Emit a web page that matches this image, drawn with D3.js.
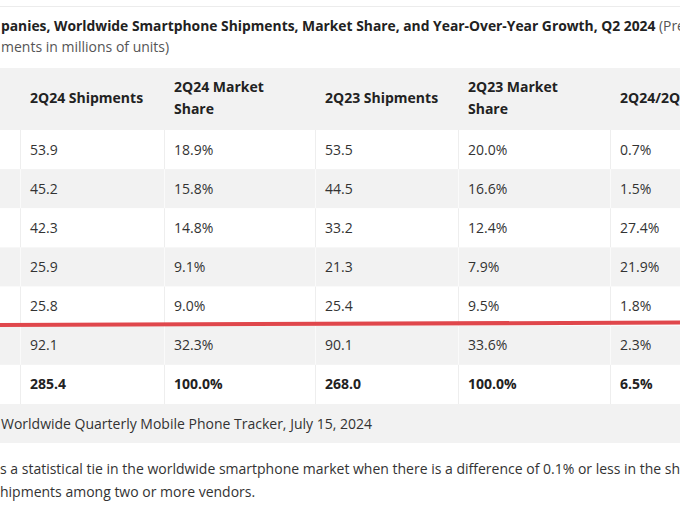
<!DOCTYPE html>
<html>
<head>
<meta charset="utf-8">
<script src="https://cdn.jsdelivr.net/npm/d3@7"></script>
<style>
  html, body { margin: 0; padding: 0; background: #fff; }
  svg { display: block; }
  text { font-family: "Open Sans", "Noto Sans", sans-serif; }
</style>
</head>
<body>
<script>
// ---- data ----
const vendors = ["Samsung", "Apple", "Xiaomi", "vivo", "Transsion", "Others", "Total"];
const headers = ["2Q24 Shipments", "2Q24 Market Share", "2Q23 Shipments", "2Q23 Market Share", "2Q24/2Q23 Growth"];
const headerLines = [["2Q24 Shipments"], ["2Q24 Market", "Share"], ["2Q23 Shipments"], ["2Q23 Market", "Share"], ["2Q24/2Q23 Growth"]];
const ship24 = [53.9, 45.2, 42.3, 25.9, 25.8, 92.1, 285.4];
const share24 = [18.9, 15.8, 14.8, 9.1, 9.0, 32.3, 100.0];
const ship23 = [53.5, 44.5, 33.2, 21.3, 25.4, 90.1, 268.0];
const share23 = [20.0, 16.6, 12.4, 7.9, 9.5, 33.6, 100.0];
const growth = [0.7, 1.5, 27.4, 21.9, 1.8, 2.3, 6.5];
const titleBold = "panies, Worldwide Smartphone Shipments, Market Share, and Year-Over-Year Growth, Q2 2024";
const titleRest = " (Preliminary results,";
const subtitle = "ments in millions of units)";
const sourceText = "Worldwide Quarterly Mobile Phone Tracker, July 15, 2024";
const noteLines = [
  "s a statistical tie in the worldwide smartphone market when there is a difference of 0.1% or less in the share of revenues or",
  "hipments among two or more vendors."
];

// ---- layout ----
const W = 680, H = 510;
const svg = d3.select("body").append("svg").attr("width", W).attr("height", H);
const gray = "#f2f2f2";
const txt = "#333";

const colX = d3.scaleOrdinal().domain(headers).range([20, 164, 315, 458, 610]);
const y = d3.scaleBand().domain(vendors).range([130, 404]).padding(0);

// top rule
svg.append("line").attr("x1", 0).attr("x2", W).attr("y1", 6.5).attr("y2", 6.5)
  .attr("stroke", "#ececec").attr("stroke-width", 1);

// title
const t = svg.append("text").attr("x", 1).attr("y", 31).attr("font-size", 13.85).attr("fill", "#222");
t.append("tspan").attr("font-weight", 700).text(titleBold);
t.append("tspan").attr("font-weight", 400).attr("fill", "#555").text(titleRest);
svg.append("text").attr("x", 1).attr("y", 52).attr("font-size", 14).attr("fill", "#555").text(subtitle);

// header band
svg.append("rect").attr("x", 0).attr("y", 68).attr("width", W).attr("height", 62).attr("fill", gray);
headers.forEach((h, i) => {
  const lines = headerLines[i];
  const cy = 97.5;
  const lh = 22;
  const tt = svg.append("text").attr("font-size", 14).attr("font-weight", 700).attr("fill", "#222");
  lines.forEach((l, j) => {
    tt.append("tspan").attr("x", colX(h) + 10)
      .attr("y", cy + (j - (lines.length - 1) / 2) * lh)
      .attr("dominant-baseline", "central").text(l);
  });
});

// rows
const rows = vendors.map((v, i) => ({
  v, i, vals: [ship24[i].toFixed(1), share24[i].toFixed(1) + "%", ship23[i].toFixed(1), share23[i].toFixed(1) + "%", growth[i].toFixed(1) + "%"]
}));
const rg = svg.selectAll("g.row").data(rows).join("g").attr("class", "row");
rg.append("rect").attr("x", 0).attr("y", d => y(d.v)).attr("width", W).attr("height", y.bandwidth())
  .attr("fill", d => d.i % 2 === 1 ? gray : "#fff");
rg.each(function(d) {
  const g = d3.select(this);
  headers.forEach((h, k) => {
    g.append("line").attr("x1", colX(h) + 0.5).attr("x2", colX(h) + 0.5)
      .attr("y1", y(d.v)).attr("y2", y(d.v) + y.bandwidth())
      .attr("stroke", d.i % 2 === 1 ? "#fafafa" : "#eeeeee");
    g.append("text").attr("x", colX(h) + 10).attr("y", y(d.v) + y.bandwidth() / 2 - 0.5)
      .attr("dominant-baseline", "central").attr("font-size", 14)
      .attr("font-weight", d.v === "Total" ? 700 : 400)
      .attr("fill", d.v === "Total" ? "#222" : txt).text(d.vals[k]);
  });
});

// source band
svg.append("rect").attr("x", 0).attr("y", 404).attr("width", W).attr("height", 39).attr("fill", gray);
svg.append("text").attr("x", 1).attr("y", 423).attr("dominant-baseline", "central")
  .attr("font-size", 14).attr("fill", txt).text(sourceText);

// note
noteLines.forEach((l, i) => {
  svg.append("text").attr("x", 0).attr("y", 468 + i * 23).attr("dominant-baseline", "central")
    .attr("font-size", 14).attr("fill", txt).text(l);
});

// red annotation line
svg.append("line").attr("x1", 0).attr("y1", 325).attr("x2", W).attr("y2", 322.5)
  .attr("stroke", "#e0474c").attr("stroke-width", 4);
</script>
</body>
</html>
